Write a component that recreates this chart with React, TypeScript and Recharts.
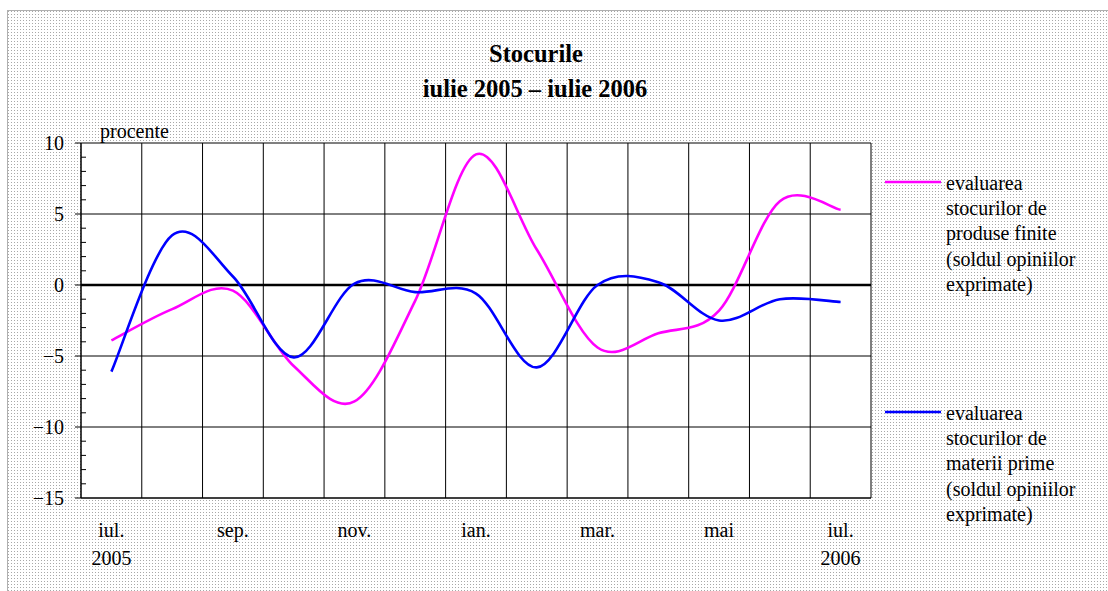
import { CartesianGrid, Line, LineChart, ReferenceLine, XAxis, YAxis } from "recharts";

// months iul. 2005 .. iul. 2006
const months = ["iul.", "aug.", "sep.", "oct.", "nov.", "dec.", "ian.", "feb.", "mar.", "apr.", "mai", "iun.", "iul."];
const years = ["2005", "", "", "", "", "", "", "", "", "", "", "", "2006"];

// evaluarea stocurilor de produse finite
const produseFinite = [-3.9, -1.7, -0.4, -5.7, -8.2, -1.1, 9.2, 2.5, -4.4, -3.4, -1.8, 5.9, 5.3];
// evaluarea stocurilor de materii prime
const materiiPrime = [-6.1, 3.5, 0.6, -5.1, 0.1, -0.5, -0.6, -5.8, 0.0, 0.2, -2.5, -1.0, -1.2];

const majorTicks = [-15, -10, -5, 0, 5, 10];
const minorTicks = [
  -15, -14, -13, -12, -11, -10, -9, -8, -7, -6, -5, -4, -3, -2, -1, 0, 1, 2, 3, 4, 5, 6, 7, 8, 9, 10,
];

const legendFinite = ["evaluarea", "stocurilor de", "produse finite", "(soldul opiniilor", "exprimate)"];
const legendPrime = ["evaluarea", "stocurilor de", "materii prime", "(soldul opiniilor", "exprimate)"];

const data = months.map((m, i) => ({
  luna: years[i] ? `${m} ${years[i]}` : m,
  finite: produseFinite[i],
  prime: materiiPrime[i],
}));

const FONT = '"Liberation Serif", "Times New Roman", serif';
const PINK = "#ff00ff";
const BLUE = "#0000ff";

// Excel-style smoothed line (cardinal / catmull-rom bezier)
function excelSmooth(context: any) {
  let pts: number[][] = [];
  return {
    areaStart() {},
    areaEnd() {},
    lineStart() {
      pts = [];
    },
    point(x: number, y: number) {
      pts.push([+x, +y]);
    },
    lineEnd() {
      const n = pts.length;
      if (!n) return;
      context.moveTo(pts[0][0], pts[0][1]);
      const t = 1 / 6;
      for (let i = 0; i < n - 1; i++) {
        const p0 = pts[Math.max(0, i - 1)];
        const p1 = pts[i];
        const p2 = pts[i + 1];
        const p3 = pts[Math.min(n - 1, i + 2)];
        context.bezierCurveTo(
          p1[0] + (p2[0] - p0[0]) * t,
          p1[1] + (p2[1] - p0[1]) * t,
          p2[0] - (p3[0] - p1[0]) * t,
          p2[1] - (p3[1] - p1[1]) * t,
          p2[0],
          p2[1]
        );
      }
    },
  };
}

function MonthTick({ x, y, payload }: any) {
  const [m, yr] = String(payload.value).split(" ");
  return (
    <g>
      <text x={x} y={y + 39} textAnchor="middle" fontFamily={FONT} fontSize={20} fill="#000">
        {m}
      </text>
      {yr && (
        <text x={x} y={y + 67} textAnchor="middle" fontFamily={FONT} fontSize={20} fill="#000">
          {yr}
        </text>
      )}
    </g>
  );
}

function ValueTick({ x, y, payload }: any) {
  const v = payload.value;
  const major = v % 5 === 0;
  if (!major) {
    return <line x1={x} x2={x + 5} y1={y} y2={y} stroke="#000" strokeWidth={1} />;
  }
  return (
    <g>
      <line x1={x - 6} x2={x} y1={y} y2={y} stroke="#000" strokeWidth={1} />
      <text x={x - 17} y={y + 7} textAnchor="end" fontFamily={FONT} fontSize={20} fill="#000">
        {v < 0 ? `\u2212${Math.abs(v)}` : v}
      </text>
    </g>
  );
}

function LegendBlock({ y, color, lines }: { y: number; color: string; lines: string[] }) {
  return (
    <g>
      <line x1={885} x2={941} y1={y} y2={y} stroke={color} strokeWidth={2.5} />
      <text x={946} y={y + 8} fontFamily={FONT} fontSize={20} fill="#000">
        {lines.map((l, i) => (
          <tspan key={i} x={946} dy={i === 0 ? 0 : 25.2}>
            {l}
          </tspan>
        ))}
      </text>
    </g>
  );
}

const dots =
  "url(\"data:image/svg+xml,%3Csvg xmlns='http://www.w3.org/2000/svg' width='3' height='3'%3E%3Crect width='1' height='1' fill='%23a8a8a8'/%3E%3C/svg%3E\")";

export default function App() {
  return (
    <div style={{ position: "absolute", left: 0, top: 0, width: 1108, height: 591, background: "#fff", overflow: "hidden" }}>
      <div
        style={{
          position: "absolute",
          left: 7,
          top: 10,
          width: 1110,
          height: 590,
          borderLeft: "1px solid #b0b0b0",
          borderTop: "1px solid #b0b0b0",
          backgroundImage: dots,
        }}
      />
      <div style={{ position: "absolute", left: 0, top: 0 }}>
        <LineChart width={1108} height={591} data={data} margin={{ top: 143, right: 237, bottom: 33, left: 0 }}>
          <CartesianGrid
            stroke="#000"
            strokeWidth={1}
            fill="#fff"
            fillOpacity={1}
            horizontalValues={majorTicks}
            verticalCoordinatesGenerator={({ offset }: any) =>
              months.map((_, i) => offset.left + (i * offset.width) / months.length).concat(offset.left + offset.width)
            }
          />
          <XAxis
            dataKey="luna"
            type="category"
            scale="band"
            interval={1}
            tickLine={false}
            tickSize={0}
            tickMargin={0}
            height={60}
            axisLine={{ stroke: "#000" }}
            tick={<MonthTick />}
          />
          <YAxis
            type="number"
            domain={[-15, 10]}
            ticks={minorTicks}
            interval={0}
            width={81}
            tickLine={false}
            tickSize={0}
            tickMargin={0}
            axisLine={{ stroke: "#000" }}
            tick={<ValueTick />}
          />
          <ReferenceLine y={0} stroke="#000" strokeWidth={2.5} />
          <Line dataKey="finite" type={excelSmooth as any} stroke={PINK} strokeWidth={2.6} dot={false} isAnimationActive={false} />
          <Line dataKey="prime" type={excelSmooth as any} stroke={BLUE} strokeWidth={2.6} dot={false} isAnimationActive={false} />
          <text x={536} y={61.7} textAnchor="middle" fontFamily={FONT} fontSize={24.5} fontWeight="bold" fill="#000">
            Stocurile
          </text>
          <text x={535} y={96.7} textAnchor="middle" fontFamily={FONT} fontSize={24.5} fontWeight="bold" fill="#000">
            iulie 2005 – iulie 2006
          </text>
          <text x={100} y={138} fontFamily={FONT} fontSize={20} fill="#000">
            procente
          </text>
          <LegendBlock y={182} color={PINK} lines={legendFinite} />
          <LegendBlock y={412} color={BLUE} lines={legendPrime} />
        </LineChart>
      </div>
    </div>
  );
}
